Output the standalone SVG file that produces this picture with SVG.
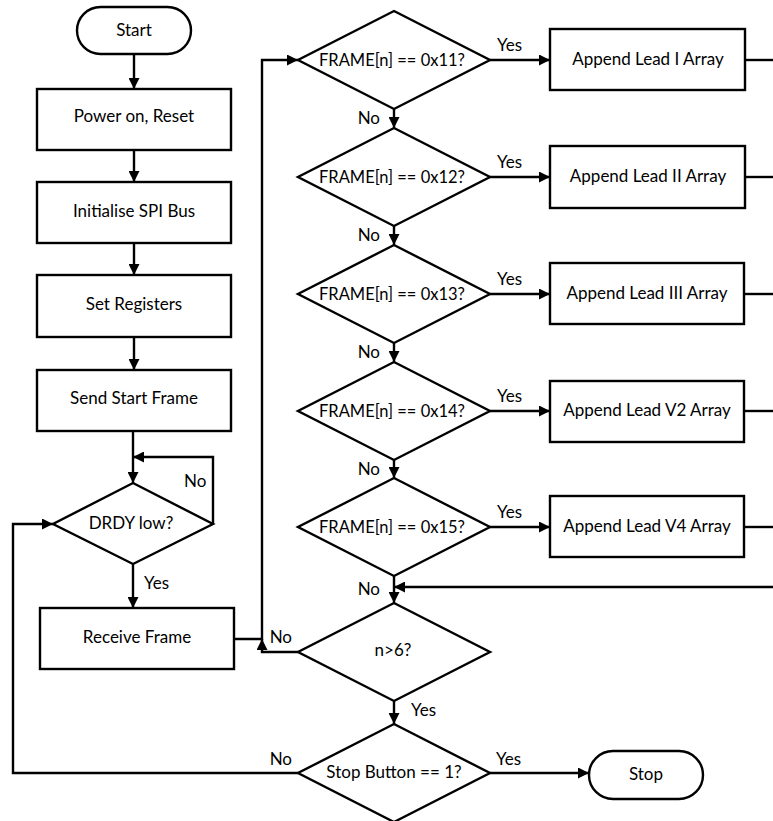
<svg xmlns="http://www.w3.org/2000/svg" width="773" height="821" viewBox="0 0 773 821">
  <defs>
    <marker id="arrow" viewBox="0 0 10 10" refX="10" refY="5" markerWidth="11" markerHeight="11" markerUnits="userSpaceOnUse" orient="auto">
      <path d="M0,0 L10,5 L0,10 Z" fill="#000"/>
    </marker>
    <style>
      .shape { fill: #fff; stroke: #000; stroke-width: 2.4; }
      .line { fill: none; stroke: #000; stroke-width: 2.4; }
      .arr { marker-end: url(#arrow); }
      text { font-family: Lato, "Open Sans", "Liberation Sans", sans-serif; font-size: 17px; fill: #000; }
      .c { text-anchor: middle; }
      .e { text-anchor: end; }
      .q { font-size: 16.5px; }
    </style>
  </defs>

  <!-- connectors -->
  <g id="connectors">
    <path class="line arr" d="M134,54 V89"/>
    <path class="line arr" d="M134,150 V182"/>
    <path class="line arr" d="M134,243 V275"/>
    <path class="line arr" d="M134,337 V370"/>
    <path class="line arr" d="M133,431 V483"/>
    <path class="line arr" d="M213,524 V457 H133"/>
    <path class="line arr" d="M133,564 V608"/>
    <path class="line arr" d="M234,639 H262 V60 H298"/>
    <path class="line arr" d="M298,652 H262 V639"/>
    <!-- decision chain -->
    <path class="line arr" d="M394,109 V128"/>
    <path class="line arr" d="M394,226 V245"/>
    <path class="line arr" d="M394,343 V362"/>
    <path class="line arr" d="M394,460 V478"/>
    <path class="line arr" d="M394,576 V603"/>
    <path class="line arr" d="M773,587 H394"/>
    <path class="line arr" d="M394,701 V724"/>
    <!-- yes branches -->
    <path class="line arr" d="M490,60 H550"/>
    <path class="line arr" d="M490,177 H550"/>
    <path class="line arr" d="M490,294 H550"/>
    <path class="line arr" d="M490,411 H550"/>
    <path class="line arr" d="M490,527 H550"/>
    <path class="line" d="M745,60 H773"/>
    <path class="line" d="M745,177 H773"/>
    <path class="line" d="M745,294 H773"/>
    <path class="line" d="M745,411 H773"/>
    <path class="line" d="M745,527 H773"/>
    <path class="line arr" d="M490,773 H589"/>
    <path class="line arr" d="M298,773 H13 V524 H53"/>
  </g>

  <!-- connector labels -->
  <g id="labels">
    <text x="184" y="487">No</text>
    <text x="144" y="589">Yes</text>
    <text x="497" y="51">Yes</text>
    <text x="497" y="168">Yes</text>
    <text x="497" y="285">Yes</text>
    <text x="497" y="402">Yes</text>
    <text x="497" y="518">Yes</text>
    <text class="e" x="380" y="124">No</text>
    <text class="e" x="380" y="241">No</text>
    <text class="e" x="380" y="358">No</text>
    <text class="e" x="380" y="475">No</text>
    <text class="e" x="380" y="595">No</text>
    <text class="e" x="292" y="643">No</text>
    <text x="411" y="716">Yes</text>
    <text class="e" x="292" y="765">No</text>
    <text x="496" y="765">Yes</text>
  </g>

  <g id="start">
    <rect class="shape" x="77" y="7" width="114" height="47" rx="23.5"/>
    <text class="c" x="134" y="36">Start</text>
  </g>
  <g id="power-on">
    <rect class="shape" x="37" y="89" width="194" height="61"/>
    <text class="c" x="134" y="122">Power on, Reset</text>
  </g>
  <g id="init-spi">
    <rect class="shape" x="37" y="182" width="194" height="61"/>
    <text class="c" x="134" y="217">Initialise SPI Bus</text>
  </g>
  <g id="set-registers">
    <rect class="shape" x="37" y="275" width="194" height="62"/>
    <text class="c" x="134" y="310">Set Registers</text>
  </g>
  <g id="send-start">
    <rect class="shape" x="37" y="370" width="194" height="61"/>
    <text class="c" x="134" y="404">Send Start Frame</text>
  </g>
  <g id="drdy">
    <polygon class="shape" points="133,483 213,524 133,564 53,524"/>
    <text class="c" x="131" y="529">DRDY low?</text>
  </g>
  <g id="receive-frame">
    <rect class="shape" x="40" y="608" width="194" height="61"/>
    <text class="c" x="137" y="643">Receive Frame</text>
  </g>

  <g id="check-11">
    <polygon class="shape" points="394,11 490,60 394,109 298,60"/>
    <text class="c q" x="392" y="66">FRAME[n] == 0x11?</text>
  </g>
  <g id="check-12">
    <polygon class="shape" points="394,128 490,177 394,226 298,177"/>
    <text class="c q" x="392" y="183">FRAME[n] == 0x12?</text>
  </g>
  <g id="check-13">
    <polygon class="shape" points="394,245 490,294 394,343 298,294"/>
    <text class="c q" x="392" y="300">FRAME[n] == 0x13?</text>
  </g>
  <g id="check-14">
    <polygon class="shape" points="394,362 490,411 394,460 298,411"/>
    <text class="c q" x="392" y="417">FRAME[n] == 0x14?</text>
  </g>
  <g id="check-15">
    <polygon class="shape" points="394,478 490,527 394,576 298,527"/>
    <text class="c q" x="392" y="533">FRAME[n] == 0x15?</text>
  </g>

  <g id="lead-1">
    <rect class="shape" x="550" y="29" width="195" height="61"/>
    <text class="c" x="648" y="65">Append Lead I Array</text>
  </g>
  <g id="lead-2">
    <rect class="shape" x="550" y="146" width="195" height="62"/>
    <text class="c" x="648" y="182">Append Lead II Array</text>
  </g>
  <g id="lead-3">
    <rect class="shape" x="550" y="263" width="194" height="61"/>
    <text class="c" x="647" y="299">Append Lead III Array</text>
  </g>
  <g id="lead-v2">
    <rect class="shape" x="550" y="381" width="194" height="61"/>
    <text class="c" x="647" y="416">Append Lead V2 Array</text>
  </g>
  <g id="lead-v4">
    <rect class="shape" x="550" y="496" width="194" height="61"/>
    <text class="c" x="647" y="532">Append Lead V4 Array</text>
  </g>

  <g id="n-check">
    <polygon class="shape" points="394,603 490,652 394,701 298,652"/>
    <text class="c" x="393" y="656">n&gt;6?</text>
  </g>
  <g id="stop-check">
    <polygon class="shape" points="394,724 490,773 394,822 298,773"/>
    <text class="c" x="394" y="778">Stop Button == 1?</text>
  </g>
  <g id="stop">
    <rect class="shape" x="589" y="751" width="114" height="48" rx="24"/>
    <text class="c" x="646" y="780">Stop</text>
  </g>
</svg>
